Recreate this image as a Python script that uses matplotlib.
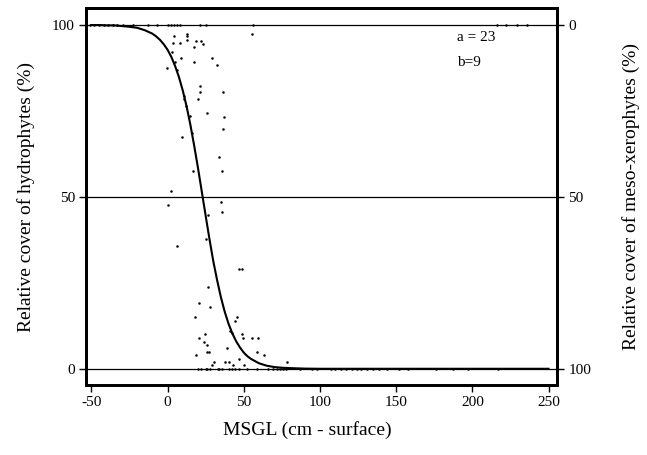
import matplotlib
matplotlib.use("Agg")
import matplotlib.pyplot as plt

plt.rcParams['font.family'] = ['Liberation Serif', 'DejaVu Serif']

# Fitted logistic curve (a = 23, b = 9)
curve_x = [-50, -45, -40, -35, -30, -25, -20, -15, -10, -7.5, -5, -2.5, 0, 2.5, 5, 7.5,
           10, 12.5, 15, 17.5, 20, 22.5, 25, 27.5, 30, 32.5, 35, 37.5, 40, 42.5, 45,
           47.5, 50, 52.5, 55, 60, 65, 70, 75, 80, 90, 100, 150, 200, 250]
curve_y = [100, 100, 99.9, 99.9, 99.7, 99.5, 99.2, 98.5, 97.5, 96.7, 95.7, 94.4, 92.8,
           90.7, 88.0, 84.8, 80.9, 76.3, 70.9, 64.8, 58.3, 51.4, 44.5, 37.7, 31.3, 25.8,
           20.8, 16.6, 13.1, 10.3, 8.0, 6.2, 4.7, 3.6, 2.8, 1.6, 0.9, 0.5, 0.3, 0.2,
           0.05, 0, 0, 0, 0]

# Observations
obs_x = [55.4, 4.5, 12.6, 12.6, 12.6, 3.8, 8.2, 18.5, 21.8, 23.5, 17.6, 2.7, 8.6, 29.4,
         32.3, 4.9, 17.4, -0.5, 6.5, 21.3, 21.3, 20.2, 36.6, 11.0, 11.0, 12.0, 26.1,
         14.8, 37.1, 36.6, 9.3, 15.9, 34.0, 16.9, 36.0, 2.1, 0.5, 35.1, 36.0, 26.8,
         25.1, 6.5, 46.9, 49.1, 26.8, 20.9, 27.9, 18.0, 45.4, 44.3, 41.0, 42.1, 48.7,
         24.8, 20.7, 49.7, 55.4, 59.6, 23.9, 25.7, 39.2, 25.7, 27.2, 58.5, 18.7, 63.3,
         47.1, 30.7, 37.7, 40.6, 29.0, 43.2, 50.2, 78.6,
         # on the 0 line
         20, 22, 25, 26, 28, 33, 34, 36, 40, 42, 44, 47, 52, 59, 66, 69, 72, 76,
         74, 78, 87, 95, 98, 107, 110, 114, 117, 121, 124, 127, 131, 135, 139, 144,
         152, 158, 176, 187, 197, 217,
         # on the 100 line
         -51, -48, -45, -42, -39, -36, -33, -29, -23, -13, -7, 0, 2, 4, 6, 8, 21, 25,
         56, 216, 222, 229, 236]
obs_y = [97.5, 96.7, 97.4, 96.7, 95.6, 94.7, 94.7, 95.4, 95.4, 94.5, 93.6, 92.2, 90.5,
         90.5, 88.5, 89.3, 89.3, 87.4, 86.9, 82.4, 80.4, 78.4, 80.4, 79.4, 78.4, 76.5,
         74.5, 73.5, 73.3, 69.8, 67.5, 68.5, 61.5, 57.6, 57.6, 51.7, 47.7, 48.6, 45.7,
         44.8, 37.8, 35.8, 29.1, 29.1, 23.9, 19.1, 18.1, 15.0, 15.0, 14.0, 11.1, 10.4,
         10.1, 10.1, 8.9, 8.9, 8.9, 8.9, 7.9, 6.9, 5.9, 4.9, 4.9, 4.9, 3.9, 3.9, 2.9,
         1.9, 1.9, 1.9, 1.0, 1.0, 1.0, 1.9,
         0, 0, 0, 0, 0, 0, 0, 0, 0, 0, 0, 0, 0, 0, 0, 0, 0, 0,
         0, 0, 0, 0, 0, 0, 0, 0, 0, 0, 0, 0, 0, 0, 0, 0,
         0, 0, 0, 0, 0, 0,
         100, 100, 100, 100, 100, 100, 100, 100, 100, 100, 100, 100, 100, 100, 100,
         100, 100, 100, 100, 100, 100, 100, 100]

x_ticks = [-50, 0, 50, 100, 150, 200, 250]
y_ticks = [0, 50, 100]
y_ticklabels_left = ['0', '50', '100']
y_ticklabels_right = ['100', '50', '0']

fig = plt.figure(figsize=(6.47, 4.55), dpi=100)
ax = fig.add_axes([0.133, 0.154, 0.728, 0.828])

for yv in y_ticks:
    ax.axhline(yv, color='black', lw=0.9, zorder=1)

ax.plot(obs_x, obs_y, 'o', color='black', ms=1.8, mew=0, zorder=3)
ax.plot(curve_x, curve_y, '-', color='black', lw=1.5, zorder=2)

ax.set_xlim(-53.5, 255.6)
ax.set_ylim(-4.7, 104.9)
ax.set_xticks(x_ticks)
ax.set_xticklabels([str(v) for v in x_ticks])
ax.set_yticks(y_ticks)
ax.set_yticklabels(y_ticklabels_left)

for s in ax.spines.values():
    s.set_linewidth(2)
ax.tick_params(direction='out', length=5, width=1, labelsize=11, pad=3)

ax2 = ax.twinx()
ax2.set_ylim(ax.get_ylim())
ax2.set_yticks(y_ticks)
ax2.set_yticklabels(y_ticklabels_right)
ax2.tick_params(direction='out', length=5, width=1, labelsize=11, pad=3)
for s in ax2.spines.values():
    s.set_linewidth(2)

ax.set_xlabel('MSGL (cm - surface)', fontsize=14, labelpad=5)
ax.xaxis.set_label_coords(0.469, -0.095)
ax.set_ylabel('Relative cover of hydrophytes (%)', fontsize=14, labelpad=12)
ax2.set_ylabel('Relative cover of meso-xerophytes (%)', fontsize=14, labelpad=22)

ax.text(0.788, 0.923, 'a = 23', transform=ax.transAxes, fontsize=11, va='center', ha='left')
ax.text(0.788, 0.857, 'b=9', transform=ax.transAxes, fontsize=11, va='center', ha='left')

fig.savefig('out.png', dpi=100)
